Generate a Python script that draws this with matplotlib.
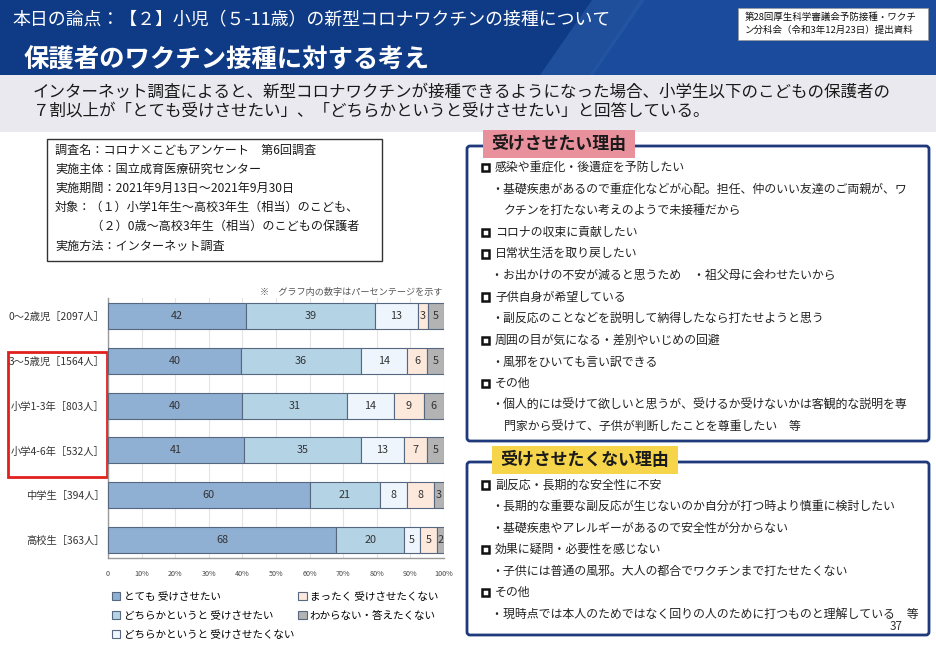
import matplotlib
matplotlib.use('Agg')
import matplotlib.pyplot as plt
import matplotlib.patches as mpatches
import numpy as np

plt.rcParams['font.family'] = ['Noto Sans CJK JP', 'DejaVu Sans']

# ---------- data ----------------------------------------------
groups = ['0～2歳児［2097人］', '3～5歳児［1564人］', '小学1-3年［803人］',
          '小学4-6年［532人］', '中学生［394人］', '高校生［363人］']
very_yes = [42, 40, 40, 41, 60, 68]
rather_yes = [39, 36, 31, 35, 21, 20]
rather_no = [13, 14, 14, 13, 8, 5]
not_at_all = [3, 6, 9, 7, 8, 5]
dont_know = [5, 5, 6, 5, 3, 2]
series_names = ['とても 受けさせたい', 'どちらかというと 受けさせたい',
                'どちらかというと 受けさせたくない', 'まったく 受けさせたくない',
                'わからない・答えたくない']
series_colors = ['#8fb0d3', '#b4d4e6', '#eef5fd', '#fde8dc', '#b3b3b3']
tick_labels = ['0', '10%', '20%', '30%', '40%', '50%', '60%', '70%', '80%', '90%', '100%']

title1 = '本日の論点：【２】小児（５-11歳）の新型コロナワクチンの接種について'
title2 = '保護者のワクチン接種に対する考え'
source = ['第28回厚生科学審議会予防接種・ワクチ', 'ン分科会（令和3年12月23日）提出資料']
summary = ['インターネット調査によると、新型コロナワクチンが接種できるようになった場合、小学生以下のこどもの保護者の',
           '７割以上が「とても受けさせたい」、「どちらかというと受けさせたい」と回答している。']
survey = ['調査名：コロナ×こどもアンケート　第6回調査',
          '実施主体：国立成育医療研究センター',
          '実施期間：2021年9月13日～2021年9月30日',
          '対象：（１）小学1年生～高校3年生（相当）のこども、',
          '　　　（２）0歳～高校3年生（相当）のこどもの保護者',
          '実施方法：インターネット調査']

reasons_yes = [
    ('h', '感染や重症化・後遺症を予防したい'),
    ('s', '・基礎疾患があるので重症化などが心配。担任、仲のいい友達のご両親が、ワ'),
    ('c', 'クチンを打たない考えのようで未接種だから'),
    ('h', 'コロナの収束に貢献したい'),
    ('h', '日常状生活を取り戻したい'),
    ('s', '・お出かけの不安が減ると思うため　・祖父母に会わせたいから'),
    ('h', '子供自身が希望している'),
    ('s', '・副反応のことなどを説明して納得したなら打たせようと思う'),
    ('h', '周囲の目が気になる・差別やいじめの回避'),
    ('s', '・風邪をひいても言い訳できる'),
    ('h', 'その他'),
    ('s', '・個人的には受けて欲しいと思うが、受けるか受けないかは客観的な説明を専'),
    ('c', '門家から受けて、子供が判断したことを尊重したい　等'),
]
reasons_no = [
    ('h', '副反応・長期的な安全性に不安'),
    ('s', '・長期的な重要な副反応が生じないのか自分が打つ時より慎重に検討したい'),
    ('s', '・基礎疾患やアレルギーがあるので安全性が分からない'),
    ('h', '効果に疑問・必要性を感じない'),
    ('s', '・子供には普通の風邪。大人の都合でワクチンまで打たせたくない'),
    ('h', 'その他'),
    ('s', '・現時点では本人のためではなく回りの人のために打つものと理解している　等'),
]

W, H = 936, 646
fig = plt.figure(figsize=(W / 100, H / 100), dpi=100)

# ---------- background / slide layer (pixel coords) -----------
bg = fig.add_axes([0, 0, 1, 1], zorder=0)
bg.set_xlim(0, W)
bg.set_ylim(H, 0)
bg.axis('off')

navy = '#0f3b86'
bg.add_patch(mpatches.Rectangle((0, 0), W, 75, color=navy, lw=0))
bg.add_patch(mpatches.Polygon([(640, 0), (W, 0), (W, 75), (590, 75)], color='#1a4b9c', lw=0))
bg.add_patch(mpatches.Polygon([(592, 0), (645, 0), (593, 75), (540, 75)], color='#2a5ba8', lw=0, alpha=0.6))
bg.text(12, 20, title1, color='white', fontsize=12.9, va='center', ha='left')
bg.text(24, 60, title2, color='white', fontsize=18.3, fontweight='bold', va='center', ha='left')

bg.add_patch(mpatches.Rectangle((738, 8), 190, 32, facecolor='white', edgecolor='#999999', lw=0.5))
for i, s in enumerate(source):
    bg.text(745, 17 + i * 13, s, fontsize=6.8, color='#111111', va='center', ha='left')

bg.add_patch(mpatches.Rectangle((0, 75), W, 57, color='#e9e9ef', lw=0))
for i, s in enumerate(summary):
    bg.text(33, 92 + i * 19.5, s, fontsize=11.9, color='#1a1a1a', va='center', ha='left')

# survey info box
bg.add_patch(mpatches.Rectangle((47, 139), 335, 122, facecolor='white', edgecolor='#333333', lw=1))
for i, s in enumerate(survey):
    bg.text(55, 150 + i * 19.2, s, fontsize=8.7, color='#1a1a1a', va='center', ha='left')

# note above chart
bg.text(443, 292, '※　グラフ内の数字はパーセンテージを示す', fontsize=6.6, color='#555555',
        va='center', ha='right')

# red highlight box around the target groups
bg.add_patch(mpatches.Rectangle((8, 352), 99, 125, facecolor='none', edgecolor='#e0201c', lw=2))


def reason_box(top, bottom, tab, tab_color, tab_x0, tab_x1, items, y0, step):
    bg.add_patch(mpatches.FancyBboxPatch((467, top), 462, bottom - top,
                                         boxstyle='round,pad=0,rounding_size=3',
                                         facecolor='white', edgecolor='#1f3a7c', lw=2))
    bg.add_patch(mpatches.Rectangle((tab_x0, top - 16), tab_x1 - tab_x0, 28,
                                    facecolor=tab_color, edgecolor='none'))
    bg.text((tab_x0 + tab_x1) / 2, top - 2, tab, fontsize=12.2, fontweight='bold',
            color='#1a1a1a', va='center', ha='center')
    for i, (kind, s) in enumerate(items):
        y = y0 + i * step
        if kind == 'h':
            bg.add_patch(mpatches.Rectangle((481.5, y - 3.8), 7.5, 7.5, facecolor='white',
                                            edgecolor='#111111', lw=1.8))
            bg.text(495, y, s, fontsize=8.6, color='#222222', va='center', ha='left')
        elif kind == 's':
            bg.text(491, y, s, fontsize=8.6, color='#222222', va='center', ha='left')
        else:
            bg.text(504, y, s, fontsize=8.6, color='#222222', va='center', ha='left')


reason_box(146, 441, '受けさせたい理由', '#e8919c', 483, 635, reasons_yes, 167.5, 21.6)
reason_box(462, 635, '受けさせたくない理由', '#f6d54a', 492, 678, reasons_no, 485, 21.5)
bg.text(896, 627, '37', fontsize=8.5, color='#333333', va='center', ha='center')

# ---------- stacked bar chart ----------------------------------
ax = fig.add_axes([108 / W, 1 - 558 / H, 336 / W, 260 / H], zorder=1)
ax.patch.set_alpha(0)

data = np.array([very_yes, rather_yes, rather_no, not_at_all, dont_know], dtype=float)
share = data / data.sum(axis=0) * 100
y = np.arange(len(groups))
left = np.zeros(len(groups))
for k in range(len(series_names)):
    bars = ax.barh(y, share[k], left=left, height=0.58, color=series_colors[k],
                   edgecolor='#56677f', lw=0.8, label=series_names[k], zorder=3)
    ax.bar_label(bars, labels=[str(int(v)) for v in data[k]], label_type='center',
                 fontsize=7.8, color='#333333')
    left += share[k]

ax.set_xlim(0, 100)
ax.set_ylim(len(groups) - 0.6, -0.4)
ax.set_xticks(np.arange(0, 101, 10), tick_labels)
ax.set_yticks(y, groups)
ax.tick_params(axis='x', length=0, labelsize=5.2, labelcolor='#444444', pad=9)
ax.tick_params(axis='y', length=0, labelsize=7.4, labelcolor='#333333', pad=2.5)
ax.grid(axis='x', color='#e4e4e4', lw=0.8, zorder=0)
for side in ['top', 'right']:
    ax.spines[side].set_visible(False)
for side in ['left', 'bottom']:
    ax.spines[side].set_color('#9a9a9a')
    ax.spines[side].set_linewidth(1)

ax.legend(loc='upper left', bbox_to_anchor=(112 / W, 1 - 592 / H), bbox_transform=fig.transFigure,
          ncol=2, frameon=False, fontsize=7.6, handlelength=0.8, handleheight=0.8,
          handletextpad=0.3, columnspacing=0.4, labelspacing=0.85, borderaxespad=0,
          borderpad=0)

fig.savefig('out.png', dpi=100)
